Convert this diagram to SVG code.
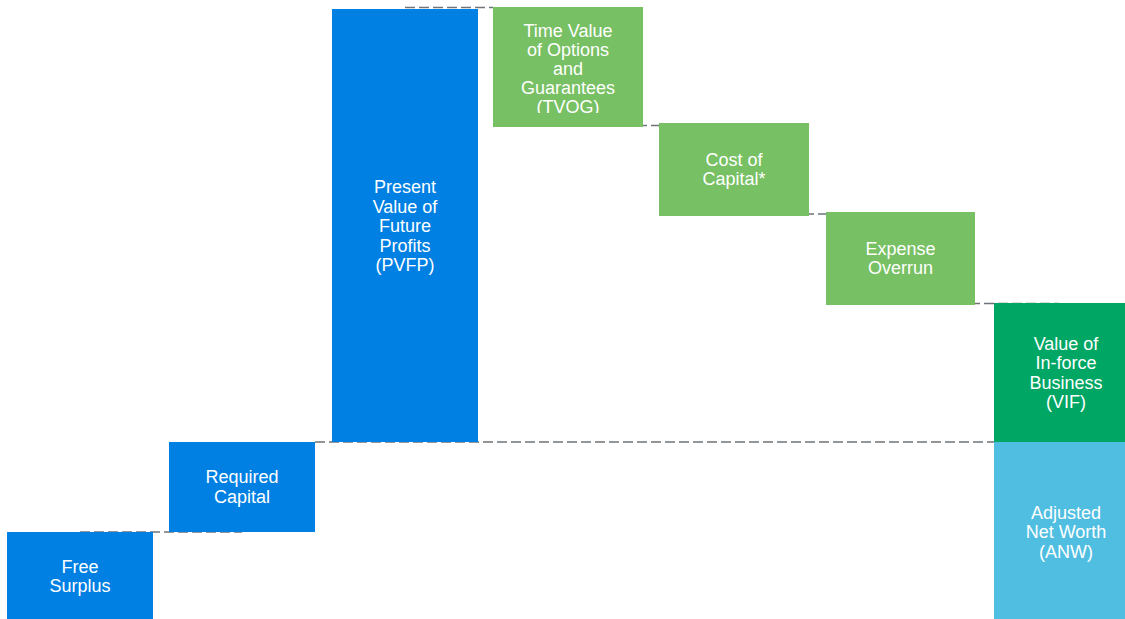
<svg xmlns="http://www.w3.org/2000/svg" width="1125" height="619" viewBox="0 0 1125 619">
<style>
.c{stroke:#6E7479;stroke-width:1.5;stroke-dasharray:10 4;fill:none}
.t{font-family:"Liberation Sans",Arial,sans-serif;font-size:18px;fill:#fff;text-anchor:middle}
.b{fill:#0080E3}
.g{fill:#77C063}
.v{fill:#00A664}
.a{fill:#50BEE1}
</style>
<defs>
<clipPath id="clipT"><rect x="493" y="7" width="150" height="106"/></clipPath>
</defs>
<rect width="1125" height="619" fill="#fff"/>
<g id="connectors">
<line class="c" x1="80" y1="532" x2="242" y2="532"/>
<line class="c" x1="315" y1="442" x2="1059" y2="442"/>
<line class="c" x1="405" y1="7.5" x2="493" y2="7.5"/>
<line class="c" x1="567" y1="125.5" x2="734" y2="125.5"/>
<line class="c" x1="734" y1="214" x2="900" y2="214"/>
<line class="c" x1="900" y1="303.5" x2="1059" y2="303.5"/>
</g>
<g id="free-surplus">
<rect class="b" x="7" y="532" width="146" height="87"/>
<text class="t" x="80" y="572.5">Free</text>
<text class="t" x="80" y="592">Surplus</text>
</g>
<g id="required-capital">
<rect class="b" x="169" y="442" width="146" height="90"/>
<text class="t" x="242" y="483.3">Required</text>
<text class="t" x="242" y="502.7">Capital</text>
</g>
<g id="pvfp">
<rect class="b" x="332" y="9" width="146" height="433"/>
<text class="t" x="405" y="193">Present</text>
<text class="t" x="405" y="212.5">Value of</text>
<text class="t" x="405" y="232">Future</text>
<text class="t" x="405" y="251.5">Profits</text>
<text class="t" x="405" y="271">(PVFP)</text>
</g>
<g id="tvog">
<rect class="g" x="493" y="7" width="150" height="120"/>
<g clip-path="url(#clipT)">
<text class="t" x="568" y="36.5">Time Value</text>
<text class="t" x="568" y="55.8">of Options</text>
<text class="t" x="568" y="75.1">and</text>
<text class="t" x="568" y="94.4">Guarantees</text>
<text class="t" x="568" y="113">(TVOG)</text>
</g>
</g>
<g id="cost-of-capital">
<rect class="g" x="659" y="123" width="150" height="93"/>
<text class="t" x="734" y="165.5">Cost of</text>
<text class="t" x="734" y="185">Capital*</text>
</g>
<g id="expense-overrun">
<rect class="g" x="826" y="212" width="149" height="93"/>
<text class="t" x="900.5" y="254.5">Expense</text>
<text class="t" x="900.5" y="274">Overrun</text>
</g>
<g id="vif">
<rect class="v" x="994" y="303" width="131" height="139"/>
<text class="t" x="1066" y="349.5">Value of</text>
<text class="t" x="1066" y="369">In-force</text>
<text class="t" x="1066" y="388.5">Business</text>
<text class="t" x="1066" y="408">(VIF)</text>
</g>
<g id="anw">
<rect class="a" x="994" y="442" width="131" height="177"/>
<text class="t" x="1066" y="518.5">Adjusted</text>
<text class="t" x="1066" y="538">Net Worth</text>
<text class="t" x="1066" y="557.5">(ANW)</text>
</g>
</svg>
